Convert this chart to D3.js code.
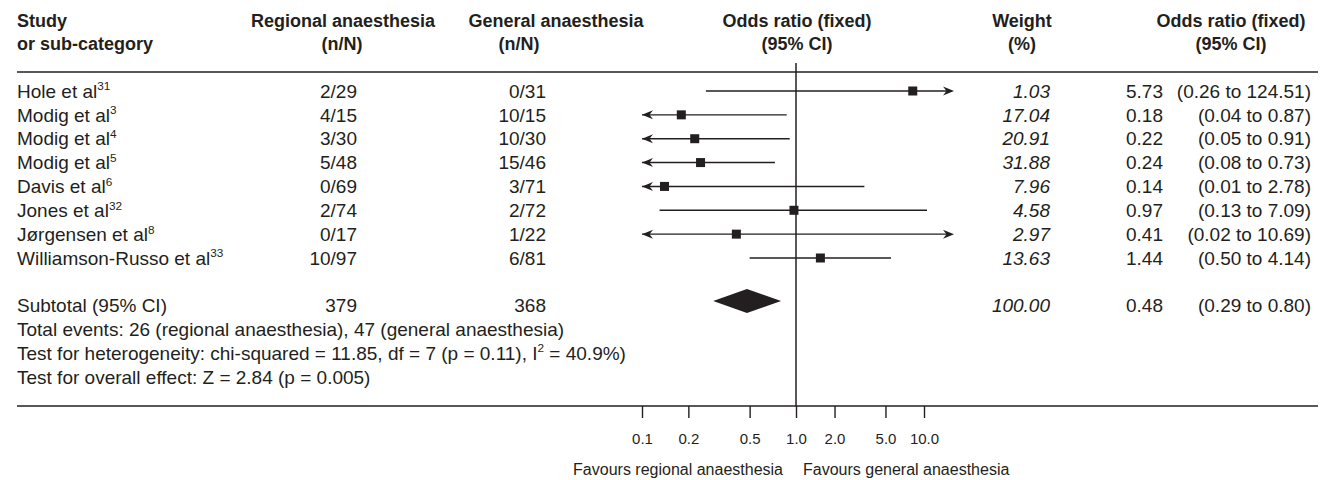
<!DOCTYPE html>
<html>
<head>
<meta charset="utf-8">
<script src="https://cdn.jsdelivr.net/npm/d3@7"></script>
<style>
  body { margin: 0; background: #fff; }
  text { font-family: "Liberation Sans", Arial, sans-serif; fill: #231f20; }
</style>
</head>
<body>
<div id="forest"></div>
<script>
// study data
var studies = ["Hole et al", "Modig et al", "Modig et al", "Modig et al", "Davis et al",
  "Jones et al", "Jørgensen et al", "Williamson-Russo et al"];
var refs = ["31", "3", "4", "5", "6", "32", "8", "33"];
var regional = ["2/29", "4/15", "3/30", "5/48", "0/69", "2/74", "0/17", "10/97"];
var general = ["0/31", "10/15", "10/30", "15/46", "3/71", "2/72", "1/22", "6/81"];
var oddsRatio = [5.73, 0.18, 0.22, 0.24, 0.14, 0.97, 0.41, 1.44];
var ciLow = [0.26, 0.04, 0.05, 0.08, 0.01, 0.13, 0.02, 0.50];
var ciHigh = [124.51, 0.87, 0.91, 0.73, 2.78, 7.09, 10.69, 4.14];
var weights = [1.03, 17.04, 20.91, 31.88, 7.96, 4.58, 2.97, 13.63];

// pooled result
var subtotalN = ["379", "368"];
var subtotalWeight = 100.00;
var pooled = [0.48, 0.29, 0.80];   // OR, low, high

var footLines = [
  "Total events: 26 (regional anaesthesia), 47 (general anaesthesia)",
  "Test for heterogeneity: chi-squared = 11.85, df = 7 (p = 0.11), I|2| = 40.9%)",
  "Test for overall effect: Z = 2.84 (p = 0.005)"
];

var tickValues = [0.1, 0.2, 0.5, 1, 2, 5, 10];
var plotLimits = [0.1, 10];

var svgWidth = 1322;
var svgHeight = 480;

var svg = d3.select("#forest")
  .append("svg")
  .attr("width", svgWidth)
  .attr("height", svgHeight);

svg.append("rect").attr("width", svgWidth).attr("height", svgHeight).attr("fill", "#fff");

var ink = "#231f20";
var bodySize = 19;
var headSize = 18;
var axisSize = 15;

// column anchors
var col = { study: 17, regional: 357, general: 546, weight: 1050, or: 1163, ci: 1311 };

var rowY = d3.scaleLinear().domain([0, studies.length - 1]).range([91, 258]);
var subtotalY = 305;
var footY = d3.scaleLinear().domain([0, 2]).range([329, 377]);
var ruleTop = 72, ruleBottom = 406;

var x = d3.scaleLog().domain(plotLimits).range([642, 950]);
// printed axis in the source is squeezed on the right side
var axisScale = d3.scaleLog().domain([0.1, 1, 10]).range([642, 796, 924]);

function addText(str, xx, yy, anchor, opts) {
  opts = opts || {};
  var size = opts.size || bodySize;
  var t = svg.append("text")
    .attr("x", xx)
    .attr("y", yy + size * 0.35)
    .attr("text-anchor", anchor)
    .style("font-size", size + "px");
  if (opts.bold) t.style("font-weight", "bold");
  if (opts.italic) t.style("font-style", "italic");
  // parts between |..| become superscripts
  var raised = false;
  str.split("|").forEach(function(part, i) {
    var sup = i % 2 == 1;
    if (!part) return;
    var s = t.append("tspan").text(part);
    if (sup) {
      s.attr("dy", -size * 0.38).style("font-size", (size * 0.62) + "px");
      raised = true;
    } else if (raised) {
      s.attr("dy", size * 0.38);
      raised = false;
    }
  });
  return t;
}

// header
var h1 = 21, h2 = 44;
addText("Study", col.study, h1, "start", {bold: true, size: headSize});
addText("or sub-category", col.study, h2, "start", {bold: true, size: headSize});
addText("Regional anaesthesia", 343, h1, "middle", {bold: true, size: headSize});
addText("(n/N)", 342, h2, "middle", {bold: true, size: headSize});
addText("General anaesthesia", 556, h1, "middle", {bold: true, size: headSize});
addText("(n/N)", 519, h2, "middle", {bold: true, size: headSize});
addText("Odds ratio (fixed)", 797, h1, "middle", {bold: true, size: headSize});
addText("(95% CI)", 797, h2, "middle", {bold: true, size: headSize});
addText("Weight", 1022, h1, "middle", {bold: true, size: headSize});
addText("(%)", 1022, h2, "middle", {bold: true, size: headSize});
addText("Odds ratio (fixed)", 1231, h1, "middle", {bold: true, size: headSize});
addText("(95% CI)", 1231, h2, "middle", {bold: true, size: headSize});

// rules
svg.append("line").attr("x1", 17).attr("x2", 1318).attr("y1", ruleTop).attr("y2", ruleTop)
  .attr("stroke", ink).attr("stroke-width", 1.5);
svg.append("line").attr("x1", 17).attr("x2", 1318).attr("y1", ruleBottom).attr("y2", ruleBottom)
  .attr("stroke", ink).attr("stroke-width", 1.5);

// line of no effect
svg.append("line")
  .attr("x1", x(1)).attr("x2", x(1))
  .attr("y1", 63).attr("y2", ruleBottom)
  .attr("stroke", ink).attr("stroke-width", 1.5);

var fmt2 = d3.format(".2f");

studies.forEach(function(name, i) {
  var y = rowY(i);
  addText(name + "|" + refs[i] + "|", col.study, y, "start");
  addText(regional[i], col.regional, y, "end");
  addText(general[i], col.general, y, "end");
  addText(fmt2(weights[i]), col.weight, y, "end", {italic: true});
  addText(fmt2(oddsRatio[i]), col.or, y, "end");
  addText("(" + fmt2(ciLow[i]) + " to " + fmt2(ciHigh[i]) + ")", col.ci, y, "end");
});

// confidence intervals
var ciGroup = svg.append("g");
var lo = function(i) { return Math.max(ciLow[i], plotLimits[0]); };
var hi = function(i) { return Math.min(ciHigh[i], plotLimits[1]); };

ciGroup.selectAll("line.ci")
  .data(d3.range(studies.length))
  .enter()
  .append("line")
  .attr("class", "ci")
  .attr("x1", i => x(lo(i)))
  .attr("x2", i => x(hi(i)))
  .attr("y1", i => rowY(i))
  .attr("y2", i => rowY(i))
  .attr("stroke", ink)
  .attr("stroke-width", 1.4);

function arrowPath(tip, y, dir) {
  // dir = 1 points right, -1 points left
  return "M" + tip + "," + y +
    "L" + (tip - dir * 11) + "," + (y - 4.5) +
    "L" + (tip - dir * 7.5) + "," + y +
    "L" + (tip - dir * 11) + "," + (y + 4.5) + "Z";
}

d3.range(studies.length).forEach(function(i) {
  if (ciLow[i] < plotLimits[0]) {
    ciGroup.append("path").attr("d", arrowPath(x(plotLimits[0]), rowY(i), -1)).attr("fill", ink);
  }
  if (ciHigh[i] > plotLimits[1]) {
    ciGroup.append("path").attr("d", arrowPath(x(plotLimits[1]) + 4, rowY(i), 1)).attr("fill", ink);
  }
});

// point estimates
var box = 9;
ciGroup.selectAll("rect.est")
  .data(d3.range(studies.length))
  .enter()
  .append("rect")
  .attr("class", "est")
  .attr("x", i => x(oddsRatio[i]) - box / 2)
  .attr("y", i => rowY(i) - box / 2)
  .attr("width", box)
  .attr("height", box)
  .attr("fill", ink);

// subtotal
addText("Subtotal (95% CI)", col.study, subtotalY, "start");
addText(subtotalN[0], col.regional, subtotalY, "end");
addText(subtotalN[1], col.general, subtotalY, "end");
addText(fmt2(subtotalWeight), col.weight, subtotalY, "end", {italic: true});
addText(fmt2(pooled[0]), col.or, subtotalY, "end");
addText("(" + fmt2(pooled[1]) + " to " + fmt2(pooled[2]) + ")", col.ci, subtotalY, "end");

var dy = subtotalY - 4;
svg.append("path")
  .attr("d", "M" + x(pooled[1]) + "," + dy +
    "L" + x(pooled[0]) + "," + (dy - 12) +
    "L" + x(pooled[2]) + "," + dy +
    "L" + x(pooled[0]) + "," + (dy + 12) + "Z")
  .attr("fill", ink);

footLines.forEach(function(line, i) {
  addText(line, col.study, footY(i), "start");
});

// axis
var bottomAxis = d3.axisBottom(axisScale)
  .tickValues(tickValues)
  .tickFormat(d3.format(".1f"))
  .tickSize(12)
  .tickPadding(15);

var axisG = svg.append("g")
  .attr("transform", `translate(0, ${ruleBottom})`)
  .call(bottomAxis);
axisG.select(".domain").remove();
axisG.selectAll(".tick line").attr("stroke", ink).attr("stroke-width", 1.4);
axisG.selectAll(".tick text")
  .attr("fill", ink)
  .style("font-family", "\"Liberation Sans\", Arial, sans-serif")
  .style("font-size", axisSize + "px");

svg.append("text")
  .attr("x", 783).attr("y", 475)
  .attr("text-anchor", "end")
  .style("font-size", "16px")
  .text("Favours regional anaesthesia");
svg.append("text")
  .attr("x", 803).attr("y", 475)
  .attr("text-anchor", "start")
  .style("font-size", "16px")
  .text("Favours general anaesthesia");
</script>
</body>
</html>
